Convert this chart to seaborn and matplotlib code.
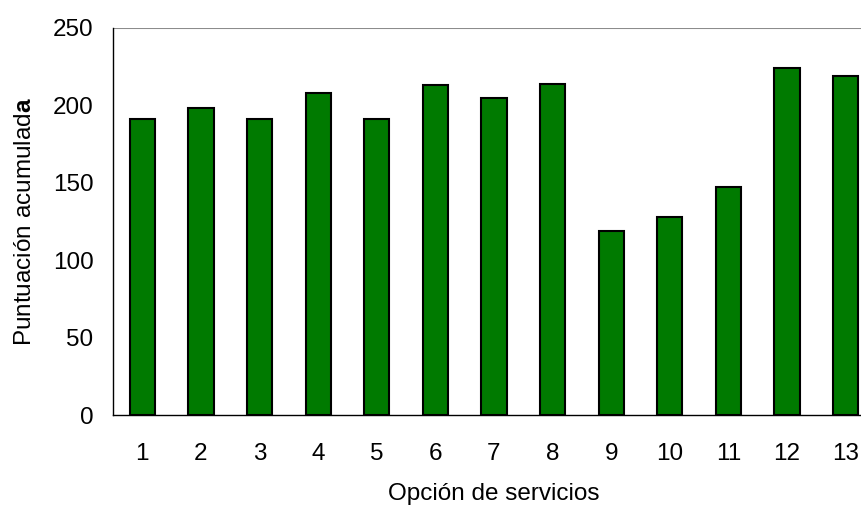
import matplotlib
matplotlib.use('Agg')
import matplotlib.pyplot as plt
import seaborn as sns
import pandas as pd
import numpy as np

# datos
opciones = [str(i) for i in range(1, 14)]
puntuacion = [191, 198, 191, 208, 191, 213, 205, 214, 119, 128, 147, 224, 219]

sns.set_style('white')
plt.rcParams['font.family'] = ['Liberation Sans', 'DejaVu Sans']
plt.rcParams['mathtext.fontset'] = 'custom'
plt.rcParams['mathtext.rm'] = 'Liberation Sans'
plt.rcParams['mathtext.bf'] = 'Liberation Sans:bold'
plt.rcParams['text.color'] = 'black'
plt.rcParams['axes.labelcolor'] = 'black'
plt.rcParams['xtick.color'] = 'black'
plt.rcParams['ytick.color'] = 'black'

df = pd.DataFrame({"opcion": opciones, "puntuacion": puntuacion})

fig = plt.figure(figsize=(8.61, 5.08), dpi=100)
# eje mas ancho que la figura: el grafico original esta cortado a la derecha
ax = fig.add_axes([113 / 861, 93 / 508, 762 / 861, 387 / 508])

sns.barplot(data=df, x="opcion", y="puntuacion", color="#007A00",
            saturation=1, width=0.43, edgecolor="black", linewidth=1.5, ax=ax)

ax.set_xlim(-0.5, 12.5)
ax.set_ylim(0, 250)
ax.set_yticks([0, 50, 100, 150, 200, 250])
ax.axhline(250, color="#8c8c8c", lw=1.5, zorder=0)

ax.set_xticks(np.arange(13))
ax.set_xticklabels(opciones)
ax.set_xticks(np.arange(0.5, 12.5, 1), minor=True)
ax.tick_params(axis='x', which='major', length=0, pad=20, labelsize=17.5)
ax.tick_params(axis='x', which='minor', length=6, width=1, direction='out')
ax.tick_params(axis='y', length=6, width=1, direction='out', labelsize=17.5, pad=8)

for s in ['top', 'right']:
    ax.spines[s].set_visible(False)
for s in ['left', 'bottom']:
    ax.spines[s].set_color('black')
    ax.spines[s].set_linewidth(1)

ax.set_xlabel("Opción de servicios", fontsize=17.5, labelpad=13)
ax.set_ylabel(r"Puntuación acumulad$\mathbf{a}$", fontsize=17.5, labelpad=12)

fig.savefig("out.png", dpi=100)
